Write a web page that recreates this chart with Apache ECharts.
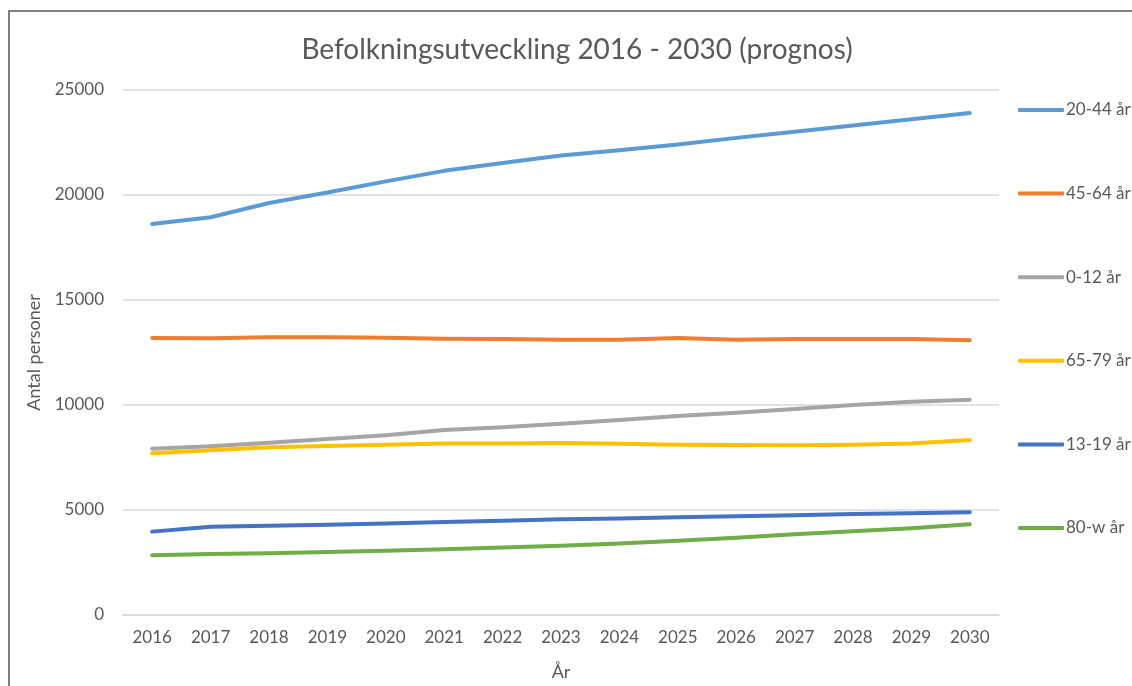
<!DOCTYPE html>
<html>
<head>
<meta charset="utf-8">
<title>Befolkningsutveckling 2016 - 2030 (prognos)</title>
<script src="https://cdn.jsdelivr.net/npm/echarts@6/dist/echarts.min.js"></script>
<style>
  html, body { margin: 0; padding: 0; background: #ffffff; }
  #frame {
    position: absolute; left: 8px; top: 10px; width: 1200px; height: 800px;
    border-left: 2px solid #7f7f7f; border-top: 2px solid #7f7f7f; box-sizing: border-box;
  }
  #chart { position: absolute; left: 0; top: 0; width: 1132px; height: 686px; }
</style>
</head>
<body>
<div id="frame"></div>
<div id="chart"></div>
<script>
// Years of the forecast period
const years = ['2016','2017','2018','2019','2020','2021','2022','2023','2024','2025','2026','2027','2028','2029','2030'];

// Population per age group (number of persons)
const age20to44 = [18620, 18940, 19620, 20120, 20650, 21150, 21520, 21880, 22130, 22410, 22720, 23010, 23310, 23610, 23900];
const age45to64 = [13190, 13175, 13230, 13230, 13200, 13160, 13140, 13110, 13110, 13190, 13110, 13140, 13140, 13140, 13080];
const age0to12  = [7920, 8030, 8200, 8380, 8560, 8810, 8940, 9110, 9290, 9480, 9630, 9810, 10000, 10150, 10250];
const age65to79 = [7700, 7850, 7990, 8050, 8110, 8170, 8170, 8190, 8160, 8110, 8095, 8080, 8110, 8170, 8330];
const age13to19 = [3970, 4200, 4250, 4300, 4360, 4430, 4490, 4555, 4590, 4650, 4700, 4750, 4810, 4840, 4890];
const age80plus = [2850, 2900, 2940, 3000, 3060, 3130, 3220, 3300, 3410, 3540, 3680, 3840, 3990, 4130, 4320];

// Y axis range
const yMin = 0, yMax = 25000, yStep = 5000;

const groups = [
  { name: '20-44 år', data: age20to44, color: '#5B9BD5' },
  { name: '45-64 år', data: age45to64, color: '#ED7D31' },
  { name: '0-12 år',  data: age0to12,  color: '#A5A5A5' },
  { name: '65-79 år', data: age65to79, color: '#FFC000' },
  { name: '13-19 år', data: age13to19, color: '#4472C4' },
  { name: '80-w år',  data: age80plus, color: '#70AD47' }
];

const FONT = 'Lato, "Open Sans", sans-serif';
const TXT = '#595959';

const chart = echarts.init(document.getElementById('chart'), null, { renderer: 'canvas' });

chart.setOption({
  animation: false,
  textStyle: { fontFamily: FONT, color: TXT },
  title: {
    text: 'Befolkningsutveckling 2016 - 2030 (prognos)',
    left: 572, top: 31, textAlign: 'center',
    textStyle: { fontFamily: FONT, fontSize: 28, fontWeight: 'normal', color: TXT }
  },
  grid: { left: 123, right: 133, top: 90, bottom: 71, containLabel: false },
  legend: {
    orient: 'vertical',
    left: 1013, top: 96,
    icon: 'roundRect',
    itemWidth: 46, itemHeight: 4,
    itemGap: 65.6,
    textStyle: { fontFamily: FONT, fontSize: 17, color: TXT, lineHeight: 18, padding: [0, 0, 0, -3] },
    data: groups.map(g => ({ name: g.name, itemStyle: { color: g.color } }))
  },
  xAxis: {
    type: 'category',
    data: years,
    boundaryGap: true,
    name: 'År',
    nameLocation: 'middle',
    nameGap: 48,
    nameTextStyle: { fontFamily: FONT, fontSize: 18, color: TXT },
    axisLine: { show: true, lineStyle: { color: '#d9d9d9', width: 1.5 } },
    axisTick: { show: false },
    axisLabel: { margin: 14, fontFamily: FONT, fontSize: 17, color: TXT },
    splitLine: { show: false }
  },
  yAxis: {
    type: 'value',
    min: yMin, max: yMax, interval: yStep,
    name: 'Antal personer',
    nameLocation: 'middle',
    nameGap: 80,
    nameRotate: 90,
    nameTextStyle: { fontFamily: FONT, fontSize: 18, color: TXT },
    axisLine: { show: false },
    axisTick: { show: false },
    axisLabel: { margin: 19, fontFamily: FONT, fontSize: 17, color: TXT, formatter: v => String(v) },
    splitLine: { lineStyle: { color: '#d9d9d9', width: 1.5 } }
  },
  series: groups.map(g => ({
    name: g.name,
    type: 'line',
    data: g.data,
    symbol: 'none',
    showSymbol: false,
    color: g.color,
    lineStyle: { color: g.color, width: 4, cap: 'round', join: 'round' }
  }))
});
</script>
</body>
</html>
